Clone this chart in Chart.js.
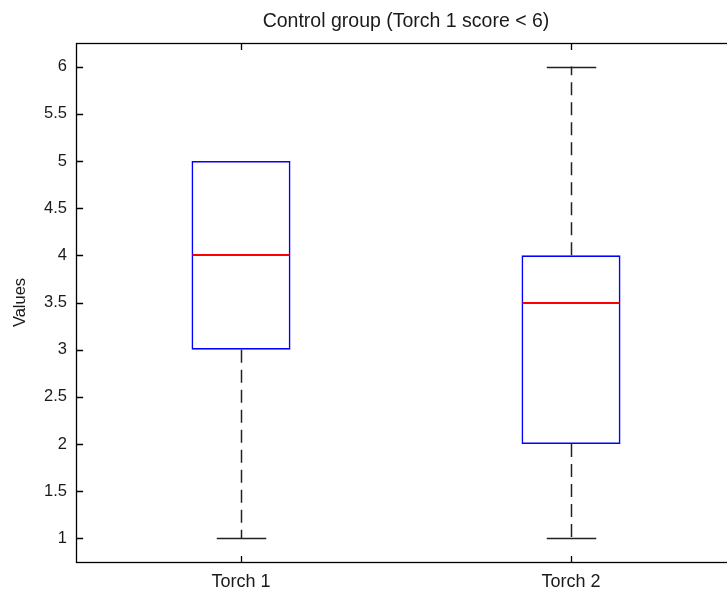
<!DOCTYPE html>
<html>
<head>
<meta charset="utf-8">
<script src="https://cdn.jsdelivr.net/npm/chart.js@4"></script>
<style>
  html, body { margin: 0; padding: 0; background: #fff; overflow: hidden; }
  #wrap { width: 727px; height: 590px; overflow: hidden; }
  canvas { display: block; }
</style>
</head>
<body>
<div id="wrap"><canvas id="c" width="760" height="590"></canvas></div>
<script>
// Box plot summary per group
const categories = ['Torch 1', 'Torch 2'];
const lowerWhisker = [1, 1];
const q1 = [3, 2];
const median = [4, 3.5];
const q3 = [5, 4];
const upperWhisker = [5, 6];
const yTickValues = [1, 1.5, 2, 2.5, 3, 3.5, 4, 4.5, 5, 5.5, 6];

const FONT = '"Liberation Sans", Arial, Helvetica, sans-serif';
const TEXT = '#1a1a1a';
const BOX_FRAC = 0.3;    // box width as a fraction of category spacing
const CAP_FRAC = 0.15;   // whisker cap width
const TICK_LEN = 6.6;

// Whiskers go underneath the boxes; medians, frame and inward ticks on top
const boxExtras = {
  id: 'boxExtras',
  beforeDatasetsDraw(chart) {
    const { ctx, scales: { x, y } } = chart;
    const step = x.getPixelForValue(1) - x.getPixelForValue(0);
    ctx.save();
    ctx.strokeStyle = '#222';
    ctx.lineWidth = 1.5;
    categories.forEach((c, i) => {
      const cx = Math.round(x.getPixelForValue(i)) + 0.5;
      const cw = step * CAP_FRAC / 2;
      const ends = [[q3[i], upperWhisker[i]], [q1[i], lowerWhisker[i]]]
        .filter(([edge, tip]) => edge !== tip);
      ends.forEach(([edge, tip]) => {
        ctx.setLineDash([13, 7]);
        ctx.beginPath();
        ctx.moveTo(cx, y.getPixelForValue(edge));
        ctx.lineTo(cx, y.getPixelForValue(tip));
        ctx.stroke();
        ctx.setLineDash([]);
        const py = Math.round(y.getPixelForValue(tip)) + 0.5;
        ctx.beginPath();
        ctx.moveTo(cx - cw, py);
        ctx.lineTo(cx + cw, py);
        ctx.stroke();
      });
    });
    ctx.restore();
  },
  afterDatasetsDraw(chart) {
    const { ctx, chartArea: a, scales: { x, y } } = chart;
    const step = x.getPixelForValue(1) - x.getPixelForValue(0);
    ctx.save();
    // medians
    ctx.strokeStyle = 'rgb(255, 0, 0)';
    ctx.lineWidth = 2;
    categories.forEach((c, i) => {
      const cx = x.getPixelForValue(i);
      const bw = step * BOX_FRAC / 2;
      const my = Math.round(y.getPixelForValue(median[i]));
      ctx.beginPath();
      ctx.moveTo(cx - bw + 1, my);
      ctx.lineTo(cx + bw - 1, my);
      ctx.stroke();
    });

    // axes frame
    ctx.strokeStyle = '#000';
    ctx.lineWidth = 1.3;
    const L = Math.round(a.left) + 0.5, R = Math.round(a.right) + 0.5;
    const T = Math.round(a.top) + 0.5, B = Math.round(a.bottom) + 0.5;
    ctx.strokeRect(L, T, R - L, B - T);
    // inward ticks
    ctx.beginPath();
    yTickValues.forEach(v => {
      const py = Math.round(y.getPixelForValue(v)) + 0.5;
      ctx.moveTo(L, py); ctx.lineTo(L + TICK_LEN, py);
      ctx.moveTo(R, py); ctx.lineTo(R - TICK_LEN, py);
    });
    categories.forEach((c, i) => {
      const px = Math.round(x.getPixelForValue(i)) + 0.5;
      ctx.moveTo(px, B); ctx.lineTo(px, B - TICK_LEN);
      ctx.moveTo(px, T); ctx.lineTo(px, T + TICK_LEN);
    });
    ctx.stroke();
    ctx.restore();
  }
};

new Chart(document.getElementById('c'), {
  type: 'bar',
  data: {
    labels: categories,
    datasets: [{
      data: categories.map((c, i) => [q1[i], q3[i]]),
      backgroundColor: 'rgba(255,255,255,0)',
      borderColor: '#0000ff',
      borderWidth: 1.6,
      borderSkipped: false,
      barPercentage: BOX_FRAC,
      categoryPercentage: 1
    }]
  },
  options: {
    responsive: false,
    animation: false,
    devicePixelRatio: 1,
    events: [],
    layout: { padding: { left: 0, right: 24, top: 0, bottom: 0 } },
    plugins: {
      legend: { display: false },
      tooltip: { enabled: false },
      title: {
        display: true,
        fullSize: false,
        text: 'Control group (Torch 1 score < 6)',
        color: TEXT,
        font: { family: FONT, size: 19.5, weight: 'normal' },
        padding: { top: 10, bottom: 9.6 }
      }
    },
    scales: {
      x: {
        type: 'category',
        offset: true,
        grid: { display: false },
        border: { display: false },
        ticks: { color: TEXT, font: { family: FONT, size: 18 }, padding: 1, maxRotation: 0 },
        afterFit(s) { s.height = 28; }
      },
      y: {
        type: 'linear',
        min: 0.75,
        max: 6.25,
        grid: { display: false },
        border: { display: false },
        afterBuildTicks(s) { s.ticks = yTickValues.map(v => ({ value: v })); },
        ticks: {
          color: TEXT,
          font: { family: FONT, size: 16.5 },
          padding: 1,
          callback: v => String(v)
        },
        title: {
          display: true,
          text: 'Values',
          color: TEXT,
          font: { family: FONT, size: 16.5 },
          padding: { top: 11, bottom: 0 }
        },
        afterFit(s) { s.width = 76; }
      }
    }
  },
  plugins: [boxExtras]
});
</script>
</body>
</html>
